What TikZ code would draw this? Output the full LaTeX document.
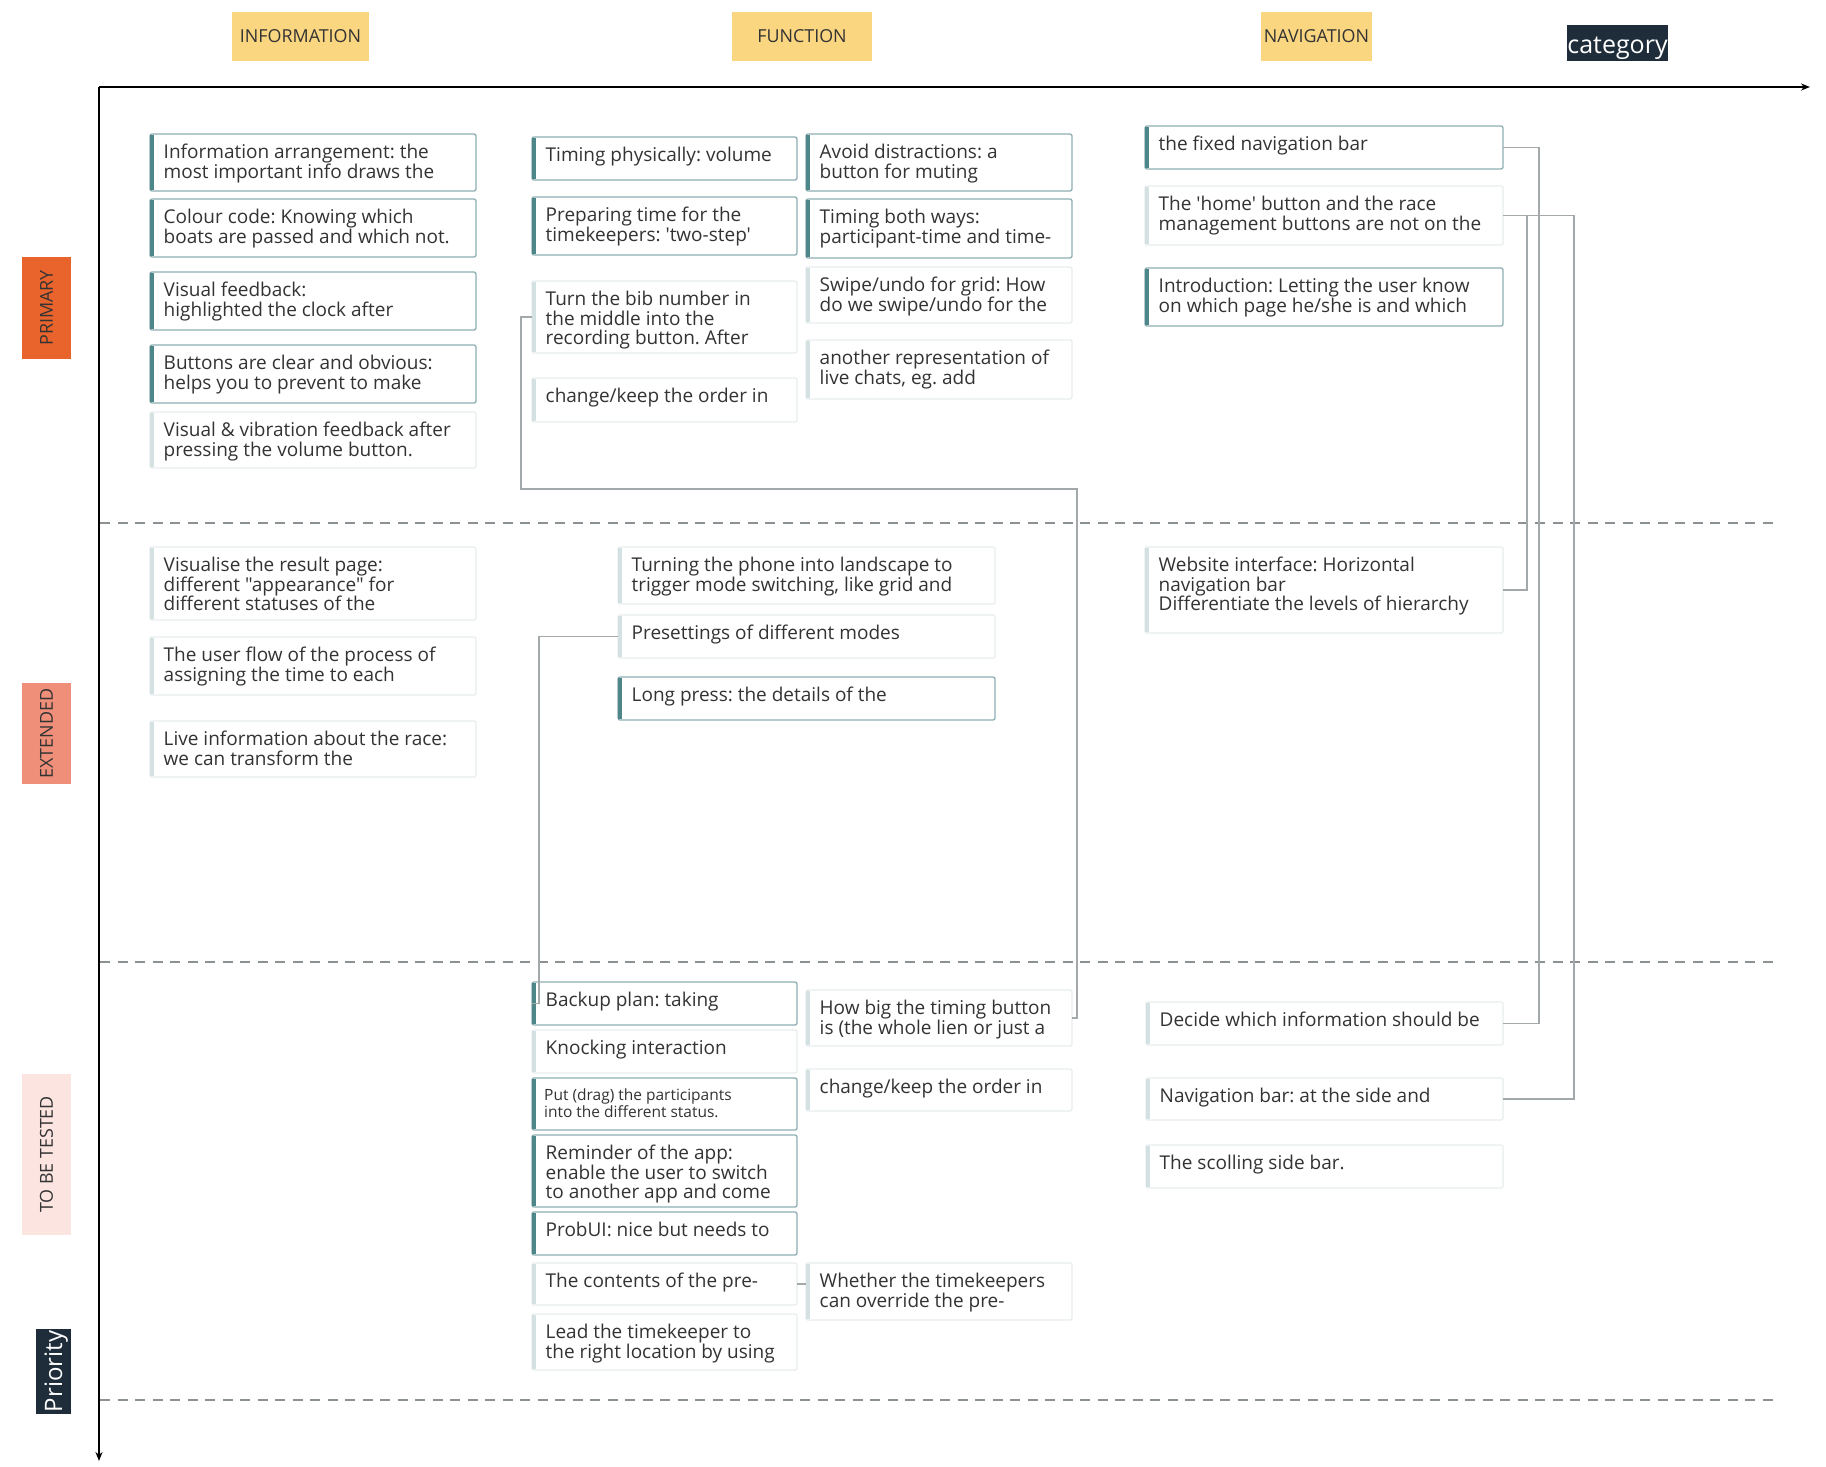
\documentclass[tikz,border=0pt]{standalone}
\usepackage{fontspec}
\setmainfont{Open Sans}[Ligatures=TeXOff]
\usetikzlibrary{arrows.meta}
\frenchspacing
\definecolor{hdryellow}{HTML}{FAD681}
\definecolor{darkbox}{HTML}{1F2D3A}
\definecolor{primcol}{HTML}{E8642C}
\definecolor{extcol}{HTML}{EF8F7A}
\definecolor{tbtcol}{HTML}{FCE4E0}
\definecolor{strongedge}{HTML}{8EAFB3}
\definecolor{strongside}{HTML}{4D878A}
\definecolor{faintedge}{HTML}{E8EDED}
\definecolor{faintside}{HTML}{D3E1E2}
\definecolor{conncol}{HTML}{A3A8AB}
\definecolor{dashcol}{HTML}{8C9194}
\definecolor{txt}{HTML}{333333}
\tikzset{
 cardbase/.style={anchor=north west, inner sep=0pt, outer sep=0pt, fill=white, rounded corners=2pt},
 strongbox/.style={cardbase, draw=strongedge, line width=1.3pt},
 faintbox/.style={cardbase, draw=faintedge, line width=1.3pt},
 strongbar/.style={draw=strongside, line width=3.5pt},
 faintbar/.style={draw=faintside, line width=3.5pt},
 ctext/.style={anchor=north west, inner sep=0pt, align=left, text=txt, font=\fontsize{19}{19.4}\selectfont\frenchspacing},
 hdr/.style={fill=hdryellow, inner sep=0pt, text=txt, font=\fontsize{17.9}{20}\selectfont},
 lbl/.style={rotate=90, inner sep=0pt, text=txt, font=\fontsize{17.9}{20}\selectfont},
 conn/.style={draw=conncol, line width=1.3pt},
 rowsep/.style={draw=dashcol, line width=1.6pt, dash pattern=on 10pt off 7.5pt},
 axisline/.style={draw=black, line width=2pt, -{Stealth[length=9pt,width=7pt]}},
}
\newcommand{\card}[7]{%
  \node[#6box, minimum width={#4-#2}, minimum height={#5-#3}] (#1) at (#2,#3) {};
  \draw[#6bar] ([xshift=1.75pt,yshift=-1pt]#1.north west) -- ([xshift=1.75pt,yshift=1pt]#1.south west);
  \node[ctext] (#1t) at ([shift={(13.5,9)}]#1.north west) {\rule{0pt}{15.5pt}#7};
}
\begin{document}
\begin{tikzpicture}[x=1pt,y=-1pt]
\fill[white] (0,0) rectangle (1826,1467);
\useasboundingbox (0,0) rectangle (1826,1467);

% headers
\node[hdr, minimum width=137, minimum height=49] (hInfo) at (300.5,36.5) {INFORMATION};
\node[hdr, minimum width=140, minimum height=49] (hFunc) at (802,36.5) {FUNCTION};
\node[hdr, minimum width=111, minimum height=49] (hNav) at (1316.5,36.5) {NAVIGATION};
\node[fill=darkbox, text=white, inner sep=0pt, minimum width=100, text height=28pt, text depth=8pt, font=\fontsize{25}{28}\selectfont] (hCat) at (1617.5,43) {category};

% row labels
\node[lbl, fill=primcol, minimum width=102, minimum height=49] (lPrim) at (46.5,308) {PRIMARY};
\node[lbl, fill=extcol, minimum width=101, minimum height=49] (lExt) at (46.5,733.5) {EXTENDED};
\node[lbl, fill=tbtcol, minimum width=161, minimum height=49] (lTbt) at (46.5,1154.5) {TO BE TESTED};
\node[lbl, fill=darkbox, text=white, minimum width=85, text height=26pt, text depth=9pt, font=\fontsize{24}{26}\selectfont] (lPrio) at (53.5,1371.5) {Priority};

% axes
\coordinate (O) at (99,87);
\coordinate (xend) at (1810,87);
\coordinate (yend) at (99,1461);
\draw[axisline] (O) -- (xend);
\draw[axisline] (O) -- (yend);

% dashed separators
\coordinate (s1a) at (100,523); \coordinate (s1b) at (1778,523);
\coordinate (s2a) at (100,962); \coordinate (s2b) at (1778,962);
\coordinate (s3a) at (100,1400); \coordinate (s3b) at (1778,1400);
\draw[rowsep] (s1a) -- (s1b);
\draw[rowsep] (s2a) -- (s2b);
\draw[rowsep] (s3a) -- (s3b);

% PRIMARY - information
\card{i1}{150}{134}{476}{191}{strong}{Information arrangement: the\\most important info draws the}
\card{i2}{150}{199}{476}{257}{strong}{Colour code: Knowing which\\boats are passed and which not.}
\card{i3}{150}{272}{476}{330}{strong}{Visual feedback:\\highlighted the clock after}
\card{i4}{150}{345}{476}{403}{strong}{Buttons are clear and obvious:\\helps you to prevent to make}
\card{i5}{150}{412}{476}{468}{faint}{Visual \& vibration feedback after\\pressing the volume button.}

% PRIMARY - function
\card{a1}{532}{137}{797}{180}{strong}{Timing physically: volume}
\card{a2}{532}{197}{797}{255}{strong}{Preparing time for the\\timekeepers: 'two-step'}
\card{a3}{532}{281}{797}{353}{faint}{Turn the bib number in\\the middle into the\\recording button. After}
\card{a4}{532}{378}{797}{422}{faint}{change/keep the order in}
\card{b1}{806}{134}{1072}{191}{strong}{Avoid distractions: a\\button for muting}
\card{b2}{806}{199}{1072}{258}{strong}{Timing both ways:\\participant-time and time-}
\card{b3}{806}{267}{1072}{323}{faint}{Swipe/undo for grid: How\\do we swipe/undo for the}
\card{b4}{806}{340}{1072}{399}{faint}{another representation of\\live chats, eg. add}

% PRIMARY - navigation
\card{n1}{1145}{126}{1503}{169}{strong}{the fixed navigation bar}
\card{n2}{1145}{186}{1503}{245}{faint}{The 'home' button and the race\\management buttons are not on the}
\card{n3}{1145}{268}{1503}{326}{strong}{Introduction: Letting the user know\\on which page he/she is and which}

% EXTENDED
\card{e1}{150}{547}{476}{620}{faint}{Visualise the result page:\\different "appearance" for\\different statuses of the}
\card{e2}{150}{637}{476}{695}{faint}{The user flow of the process of\\assigning the time to each}
\card{e3}{150}{721}{476}{777}{faint}{Live information about the race:\\we can transform the}
\card{f1}{618}{547}{995}{604}{faint}{Turning the phone into landscape to\\trigger mode switching, like grid and}
\card{f2}{618}{615}{995}{658}{faint}{Presettings of different modes}
\card{f3}{618}{677}{995}{720}{strong}{Long press: the details of the}
\card{nE1}{1145}{547}{1503}{633}{faint}{Website interface: Horizontal\\navigation bar\\Differentiate the levels of hierarchy}

% TO BE TESTED - function
\card{t1}{532}{982}{797}{1025}{strong}{Backup plan: taking}
\card{t2}{532}{1030}{797}{1073}{faint}{Knocking interaction}
\node[strongbox, minimum width=265, minimum height=52] (t3) at (532,1078) {};
\draw[strongbar] ([xshift=1.75pt,yshift=-1pt]t3.north west) -- ([xshift=1.75pt,yshift=1pt]t3.south west);
\node[ctext, font=\fontsize{15.5}{17.5}\selectfont\frenchspacing] (t3t) at ([shift={(12,9)}]t3.north west) {\rule{0pt}{13pt}Put (drag) the participants\\into the different status.};
\card{t4}{532}{1135}{797}{1207}{strong}{Reminder of the app:\\enable the user to switch\\to another app and come}
\card{t5}{532}{1212}{797}{1255}{strong}{ProbUI: nice but needs to}
\card{t6}{532}{1263}{797}{1305}{faint}{The contents of the pre-}
\card{t7}{532}{1314}{797}{1370}{faint}{Lead the timekeeper to\\the right location by using}
\card{u1}{806}{990}{1072}{1046}{faint}{How big the timing button\\is (the whole lien or just a}
\card{u2}{806}{1069}{1072}{1111}{faint}{change/keep the order in}
\card{u3}{806}{1263}{1072}{1320}{faint}{Whether the timekeepers\\can override the pre-}

% TO BE TESTED - navigation
\card{v1}{1146}{1002}{1503}{1045}{faint}{Decide which information should be}
\card{v2}{1146}{1078}{1503}{1120}{faint}{Navigation bar: at the side and}
\card{v3}{1146}{1145}{1503}{1188}{faint}{The scolling side bar.}

% connectors
\coordinate (ka) at (1077,489);
\draw[conn] (a3.west) -- ++(-11,0) |- (ka) |- (u1.east);
\draw[conn] (f2.west) -| ([xshift=7pt]t1.west) -- (t1.west);
\draw[conn] (t6.east) -- (t6.east -| u3.west);
\draw[conn] (n1.east) -- ++(36,0) |- (v1.east);
\draw[conn] (n2.east) -- ++(71,0) |- (v2.east);
\draw[conn] (n2.east) -- ++(24,0) |- (nE1.east);
\end{tikzpicture}
\end{document}
